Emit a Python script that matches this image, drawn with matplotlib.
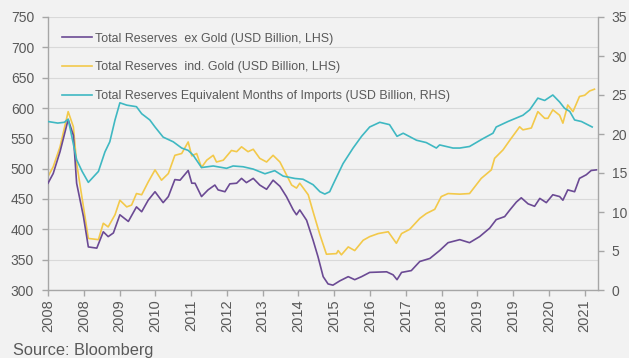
import matplotlib
matplotlib.use("Agg")
import matplotlib.pyplot as plt
from matplotlib.lines import Line2D

plt.rcParams['font.family'] = ['Liberation Sans', 'DejaVu Sans']

# ---- data (x = months since Jan 2008) ----
tick_months = [0, 11, 22, 33, 44, 55, 66, 77, 88, 99, 110, 121, 132, 143, 154, 165]
tick_labels = ["2008", "2008", "2009", "2010", "2011", "2012", "2013", "2014",
               "2015", "2016", "2017", "2018", "2019", "2019", "2020", "2021"]

months_ex = [0, 1.6, 3.7, 6.2, 7.8, 8.8, 10.9, 12.4, 15, 17, 18.5, 20.1, 22.1, 24.7, 27.2, 28.8,
             30.8, 32.9, 35.4, 37, 39, 40.6, 43.1, 44.2, 45.2, 47.2, 49.2, 51.3, 52.3, 54.4, 55.9,
             58, 59.5, 61, 63.1, 65.1, 67.2, 69.2, 71.3, 73.3, 75.4, 76.4, 77.4, 79.5, 81.5, 83,
             84.6, 86.1, 87.6, 89.7, 92.3, 94.3, 96.4, 98.9, 104.1, 106.1, 107.3, 108.7, 111.7,
             114.3, 117.4, 120.4, 123, 126.6, 129.6, 132.7, 135.8, 137.8, 140.4, 142, 144, 145.5,
             147.6, 149.6, 151.2, 153.2, 155.2, 157.3, 158.3, 159.8, 161.9, 163.4, 165.5, 167, 168.6]
reserves_ex_gold = [476, 492, 528, 581, 555, 476, 421, 371, 369, 396, 388, 394, 424, 413, 437, 429,
                    448, 462, 444, 454, 482, 481, 497, 476, 476, 454, 465, 473, 465, 462, 475,
                    476, 484, 477, 484, 473, 466, 481, 471, 454, 432, 424, 432, 415, 382, 355,
                    322, 310, 308, 315, 322, 317, 322, 329, 330, 325, 317, 329, 332,
                    347, 352, 365, 378, 383, 378, 388, 402, 416, 421, 432, 445, 452,
                    442, 438, 451, 444, 457, 454, 448, 465, 462, 484, 490, 497, 498]

months_incl = [0, 1.6, 3.7, 6.2, 7.8, 8.8, 10.9, 12.4, 15.5, 17, 18.5, 20.6, 22.1, 24.2, 25.7, 27.2,
               28.8, 30.8, 32.9, 34.9, 37, 39, 41.1, 43.1, 44.2, 45.7, 47.2, 48.8, 50.8, 51.8, 53.9,
               56.4, 58, 59.5, 61.5, 63.1, 65.1, 67.2, 69.2, 71.3, 73.3, 74.9, 76.4, 77.4, 80, 81.5,
               83.6, 85.6, 88.7, 89.2, 90.2, 92.3, 94.3, 96.9, 98.9, 101.5, 104.6, 107.1, 108.7,
               111.2, 114.3, 116.3, 118.9, 120.9, 123, 126.6, 129.6, 133.2, 136.3, 137.3, 139.9,
               142, 145, 146, 148.6, 150.6, 152.7, 153.7, 155.2, 157.3, 158.3, 159.8, 161.4, 163.4,
               165, 166.5, 168]
reserves_incl_gold = [487, 503, 536, 594, 569, 509, 437, 385, 383, 410, 404, 424, 448, 437, 440, 459,
                      457, 478, 498, 481, 492, 522, 525, 544, 521, 525, 502, 514, 522, 511, 514,
                      530, 528, 536, 528, 532, 517, 511, 522, 511, 490, 473, 468, 476, 457, 429,
                      391, 359, 360, 365, 358, 371, 365, 382, 388, 393, 396, 377, 393,
                      400, 418, 426, 433, 454, 459, 458, 459, 484, 498, 517, 531,
                      547, 569, 564, 567, 594, 583, 583, 597, 588, 575, 605, 594, 619,
                      621, 628, 631]

months_imp = [0, 3, 5, 6.2, 8.8, 10.5, 12.4, 15.5, 17.5, 19, 20.6, 22.1, 24.2, 27.2, 28.8, 31.3,
              32.9, 35.4, 38.5, 41.1, 43.1, 44.6, 47.2, 50.8, 54.9, 56.9, 60, 63.1, 66.7, 69.7,
              72.3, 75.9, 78.4, 81.5, 83.6, 85.1, 86.6, 87.6, 90.7, 93.8, 96.4, 98.9, 102, 105,
              107.3, 109.2, 113.3, 116.3, 119.4, 120.4, 124.5, 126.6, 129.6, 133.7, 136.8, 137.8,
              141.4, 146, 148.1, 150.6, 152.7, 155.2, 157.3, 158.8, 160.4, 161.9, 164, 167.3]
months_of_imports = [21.6, 21.4, 21.5, 21.9, 16.7, 15.2, 13.8, 15.2, 17.7, 19.0, 21.8, 24.0, 23.7,
                     23.5, 22.6, 21.8, 20.9, 19.6, 19.0, 18.2, 17.9, 17.3, 15.7, 15.9, 15.6, 15.9,
                     15.8, 15.5, 14.9, 15.3, 14.6, 14.3, 14.2, 13.5, 12.6, 12.3, 12.6, 13.5, 16.2,
                     18.2, 19.7, 20.9, 21.5, 21.2, 19.7, 20.1, 19.2, 18.9, 18.2, 18.6, 18.2, 18.2,
                     18.4, 19.4, 20.1, 20.9, 21.6, 22.4, 23.1, 24.6, 24.3, 25.0, 24.1, 23.3, 22.9,
                     21.8, 21.6, 20.9]

labels = ["Total Reserves  ex Gold (USD Billion, LHS)",
          "Total Reserves  ind. Gold (USD Billion, LHS)",
          "Total Reserves Equivalent Months of Imports (USD Billion, RHS)"]

# ---- style ----
bg = "#f2f2f2"
c_purple = "#6b4a94"
c_yellow = "#f3c94a"
c_teal = "#3fb8c2"
txt = "#595959"
spine_c = "#a6a6a6"
grid_c = "#d9d9d9"

fig = plt.figure(figsize=(6.29, 3.58), dpi=100, facecolor=bg)
ax = fig.add_axes([48/629, 1-290/358, (597.7-48)/629, (290-17)/358])
ax.set_facecolor(bg)
ax2 = ax.twinx()
ax2.patch.set_visible(False)

ax.plot(months_ex, reserves_ex_gold, color=c_purple, lw=1.2, zorder=3)
ax.plot(months_incl, reserves_incl_gold, color=c_yellow, lw=1.2, zorder=2)
ax2.plot(months_imp, months_of_imports, color=c_teal, lw=1.2, zorder=3)

ax.set_xlim(0, 169)
ax.set_ylim(300, 750)
ax.set_yticks(range(300, 751, 50))
ax2.set_ylim(0, 35)
ax2.set_yticks(range(0, 36, 5))
ax.set_xticks(tick_months)
ax.set_xticklabels(tick_labels, rotation=90)

ax.grid(axis='y', color=grid_c, lw=0.8)
ax.set_axisbelow(True)

for a in (ax, ax2):
    a.spines['top'].set_visible(False)
    for s in ('left', 'right', 'bottom'):
        a.spines[s].set_color(spine_c)
        a.spines[s].set_linewidth(1.0)
    a.tick_params(colors=spine_c, labelcolor=txt, labelsize=10, length=4, width=1.0)
ax.spines['right'].set_visible(False)
ax2.spines['left'].set_visible(False)
ax2.spines['bottom'].set_visible(False)
ax.tick_params(axis='x', labelsize=10.5, pad=3)
ax.tick_params(axis='y', pad=6)
ax2.tick_params(axis='y', pad=6)

handles = [Line2D([], [], color=c_purple, lw=1.2),
           Line2D([], [], color=c_yellow, lw=1.2),
           Line2D([], [], color=c_teal, lw=1.2)]
leg = ax2.legend(handles, labels, loc='upper left', bbox_to_anchor=(0.012, 0.97),
                 frameon=False, fontsize=8.9, handlelength=2.4, handletextpad=0.3,
                 labelspacing=1.35, borderaxespad=0.2)
for t in leg.get_texts():
    t.set_color(txt)

fig.text(13/629, 1-350/358, "Source: Bloomberg", fontsize=11.8, color=txt, va='center', ha='left')

fig.savefig("out.png", dpi=100, facecolor=bg)
